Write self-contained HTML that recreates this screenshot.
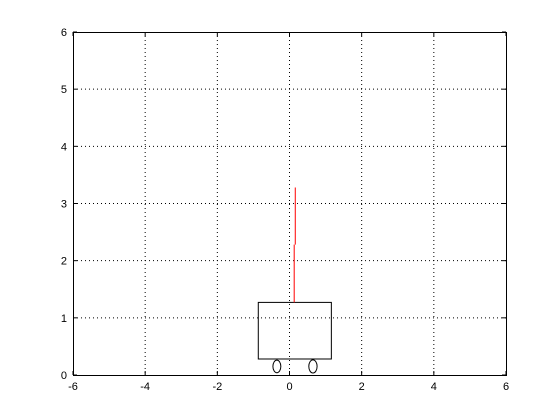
<!DOCTYPE html>
<html><head><meta charset="utf-8"><style>
body{margin:0;background:#fff;}
svg{display:block;font-family:"Liberation Sans",sans-serif;}
</style></head><body>
<svg id="chart" width="560" height="420"></svg>
<script>
const xTicks=[-6,-4,-2,0,2,4,6];
const yTicks=[0,1,2,3,4,5,6];
const cartRect=[-0.865,0.28,1.16,1.27];
const wheelX=[-0.35,0.65];
const wheelY=[0.15,0.15];
const wheelR=[0.11,0.115];
const poleX=[0.13,0.13,0.16,0.16];
const poleY=[1.27,2.28,2.28,3.28];
const L=73,R=506,T=32,B=375;
const sx=v=>L+(v+6)/12*(R-L);
const sy=v=>B-v/6*(B-T);
const svg=document.getElementById('chart');
const NS='http://www.w3.org/2000/svg';
function mk(tag,attrs){const e=document.createElementNS(NS,tag);for(const k in attrs)e.setAttribute(k,attrs[k]);svg.appendChild(e);return e;}
let e=mk('rect',{x:L,y:T,width:R-L,height:B-T,fill:'#fff',stroke:'none'});


xTicks.forEach(t=>{
 const x=sx(t);
 if(t>-6&&t<6){let g=mk('line',{x1:x,y1:T,x2:x,y2:B,stroke:'#000','stroke-width':1,'stroke-dasharray':'1,3'});
 
 }
 let tk=mk('line',{x1:x,y1:B,x2:x,y2:B-4,stroke:'#000'});
 
 
 let tk2=mk('line',{x1:x,y1:T,x2:x,y2:T+4,stroke:'#000'});
 
 
 let lb=mk('text',{x:x,y:B+15,'text-anchor':'middle','font-size':11});
 lb.textContent=t;
 
 
});
yTicks.forEach(t=>{
 const y=sy(t);
 if(t>0&&t<6){let g=mk('line',{x1:L,y1:y,x2:R,y2:y,stroke:'#000','stroke-width':1,'stroke-dasharray':'1,3'});
 
 }
 let tk=mk('line',{x1:L,y1:y,x2:L+4,y2:y,stroke:'#000'});
 
 
 let tk2=mk('line',{x1:R,y1:y,x2:R-4,y2:y,stroke:'#000'});
 
 
 let lb=mk('text',{x:L-6,y:y+4,'text-anchor':'end','font-size':11});
 lb.textContent=t;
 
 
});
let fr=mk('rect',{x:L+0.5,y:T+0.5,width:R-L,height:B-T,fill:'none',stroke:'#000'});


let cart=mk('rect',{x:sx(cartRect[0]),y:sy(cartRect[3]),width:sx(cartRect[2])-sx(cartRect[0]),height:sy(cartRect[1])-sy(cartRect[3]),fill:'none',stroke:'#000'});


wheelX.forEach((wx,i)=>{
 let w=mk('ellipse',{cx:sx(wx),cy:sy(wheelY[i]),rx:sx(wheelR[i])-sx(0),ry:sy(0)-sy(wheelR[i]),fill:'none',stroke:'#000'});
 
 
});
let d='';
for(let i=0;i<poleX.length;i++){d+=(i%2?'L':'M')+sx(poleX[i])+','+sy(poleY[i]);}
let p=mk('path',{d:d,stroke:'#f00','stroke-width':1,fill:'none'});


</script>
</body></html>
